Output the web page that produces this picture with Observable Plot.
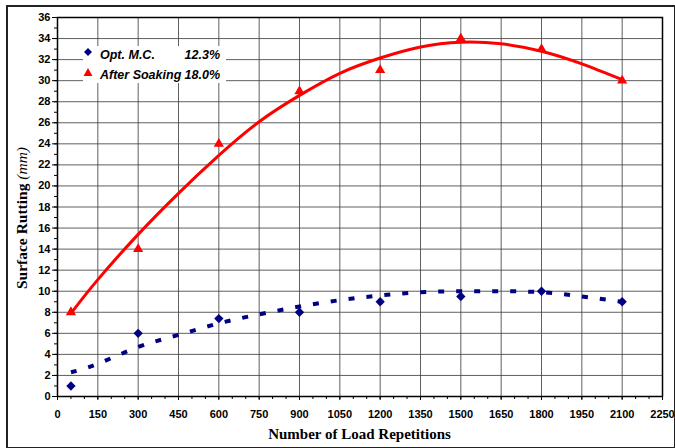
<!DOCTYPE html>
<html>
<head>
<meta charset="utf-8">
<script src="https://cdn.jsdelivr.net/npm/d3@7"></script>
<script src="https://cdn.jsdelivr.net/npm/@observablehq/plot@0.6"></script>
<style>
  html, body { margin: 0; padding: 0; background: #fff; }
  #wrap { position: relative; width: 675px; height: 448px; overflow: hidden; background: #fff; }
  #wrap svg { position: absolute; left: 0; top: 0; }
  .frame { position: absolute; left: 6px; top: 5px; width: 666px; height: 440px; border: 2px solid #222; pointer-events: none; }
  .legend { position: absolute; left: 83px; top: 46px; width: 143px; height: 37px; background: #fff;
            font-family: "Liberation Sans", Arial, sans-serif; font-weight: bold; font-style: italic; font-size: 12.5px; color: #000; }
  .legend .row { position: absolute; left: 0; width: 137px; height: 16px; line-height: 16px; }
  .legend .name { position: absolute; left: 17px; }
  .legend .val { position: absolute; right: 0; }
  .legend svg { position: absolute; left: 5px; top: 4px; }
  .xtitle { position: absolute; left: 57px; width: 605px; top: 426px; text-align: center;
            font-family: "Liberation Serif", "Times New Roman", serif; font-weight: bold; font-size: 15px; color: #000; }
  .ytitle { position: absolute; left: 22px; top: 218px; transform: translate(-50%, -50%) rotate(-90deg); white-space: nowrap;
            font-family: "Liberation Serif", "Times New Roman", serif; font-weight: bold; font-size: 15.5px; color: #000; }
  .ytitle i { font-weight: normal; }
</style>
</head>
<body>
<div id="wrap"></div>
<script>
// Measured points
const reps = [50, 300, 600, 900, 1200, 1500, 1800, 2100];
const optMC = [1, 6, 7.4, 8, 9, 9.5, 10, 9];
const soaked = [8, 14, 24, 29, 31, 34, 33, 30];

// Trend lines
const trendReps = [50, 150, 300, 450, 600, 750, 900, 1050, 1200, 1350, 1500, 1650, 1800, 1950, 2100];
const optTrend = [2.3, 3.1, 4.7, 5.85, 6.95, 7.8, 8.55, 9.15, 9.6, 9.9, 10.0, 10.0, 9.9, 9.5, 9.0];
const soakTrend = [7.9, 11.1, 15.4, 19.3, 22.9, 26.1, 28.6, 30.7, 32.15, 33.2, 33.65, 33.5, 32.8, 31.6, 30.1];

// Axis ticks
const xTicks = [0, 150, 300, 450, 600, 750, 900, 1050, 1200, 1350, 1500, 1650, 1800, 1950, 2100, 2250];
const yTicks = [0, 2, 4, 6, 8, 10, 12, 14, 16, 18, 20, 22, 24, 26, 28, 30, 32, 34, 36];
const xMinor = d3.range(0, 2251, 50);
const yMinor = d3.range(0, 37, 1);

const pts1 = reps.map((x, i) => ({x, y: optMC[i]}));
const pts2 = reps.map((x, i) => ({x, y: soaked[i]}));
const tr1 = trendReps.map((x, i) => ({x, y: optTrend[i]}));
const tr2 = trendReps.map((x, i) => ({x, y: soakTrend[i]}));

const chart = Plot.plot({
  width: 675,
  height: 448,
  marginLeft: 57,
  marginRight: 13,
  marginTop: 17,
  marginBottom: 52,
  style: {fontFamily: "'Liberation Sans', Arial, sans-serif", fontWeight: "bold", fontSize: "11px", color: "#000", background: "transparent"},
  x: {domain: [0, 2250]},
  y: {domain: [0, 36]},
  marks: [
    Plot.gridX(xTicks, {stroke: "#444", strokeOpacity: 0.85, strokeWidth: 1}),
    Plot.gridY(yTicks, {stroke: "#444", strokeOpacity: 0.85, strokeWidth: 1}),
    Plot.axisX(xMinor, {tickSize: 3, tickFormat: () => "", label: null}),
    Plot.axisY(yMinor, {tickSize: 3, tickFormat: () => "", label: null}),
    Plot.axisX(xTicks, {tickSize: 4, tickPadding: 10, label: null, tickFormat: d => String(d)}),
    Plot.axisY(yTicks, {tickSize: 5, tickPadding: 2, label: null, tickFormat: d => String(d)}),
    Plot.line(tr2, {x: "x", y: "y", curve: "natural", stroke: "#ff0000", strokeWidth: 3}),
    Plot.line(tr1, {x: "x", y: "y", curve: "natural", stroke: "#000080", strokeWidth: 4, strokeDasharray: "6,12", strokeLinecap: "butt"}),
    Plot.dot(pts1, {x: "x", y: "y", symbol: "diamond2", fill: "#000080", stroke: "none", r: 4.2}),
    Plot.dot(pts2, {x: "x", y: "y", symbol: "triangle", fill: "#ff0000", r: 3.8}),
    Plot.frame({stroke: "#000", strokeWidth: 1.5})
  ]
});

const wrap = document.getElementById("wrap");
wrap.appendChild(chart);

wrap.insertAdjacentHTML("beforeend", `
  <div class="legend">
    <div class="row" style="top:1px">
      <svg width="10" height="10"><path d="M5 1 L9 5 L5 9 L1 5 Z" fill="#000080"/></svg>
      <span class="name">Opt. M.C.</span><span class="val">12.3%</span>
    </div>
    <div class="row" style="top:21px">
      <svg width="10" height="10"><path d="M5 1 L9.5 9 L0.5 9 Z" fill="#ff0000"/></svg>
      <span class="name">After Soaking</span><span class="val">18.0%</span>
    </div>
  </div>
  <div class="xtitle">Number of Load Repetitions</div>
  <div class="ytitle">Surface Rutting <i>(mm)</i></div>
  <div class="frame"></div>
`);
</script>
</body>
</html>
